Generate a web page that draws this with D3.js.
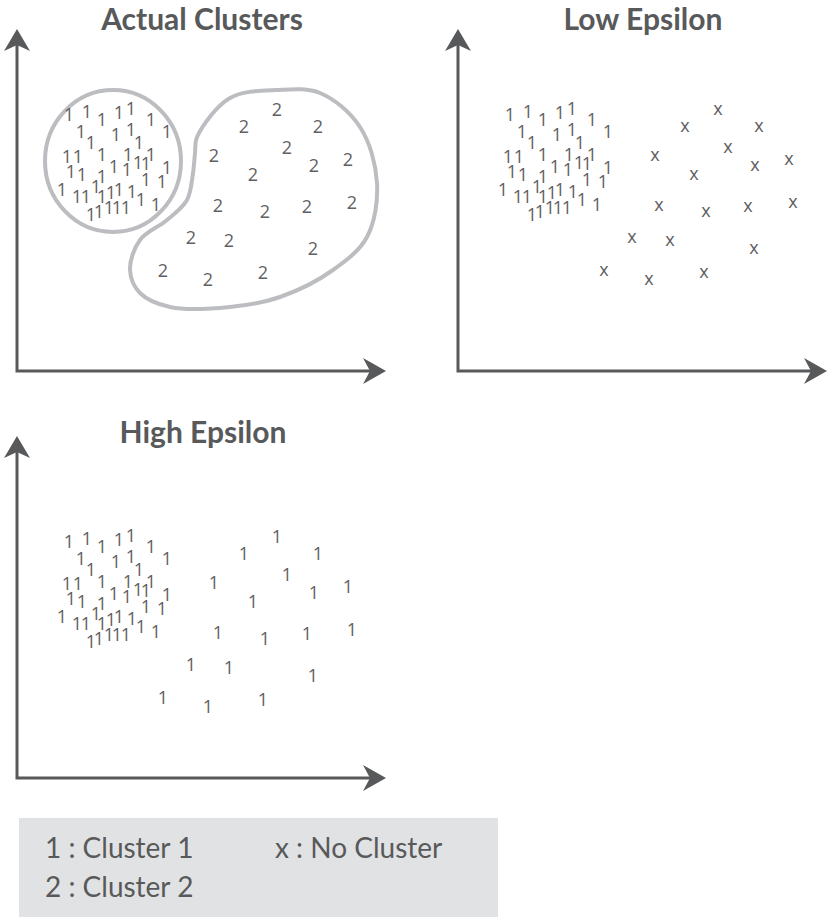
<!DOCTYPE html>
<html>
<head>
<meta charset="utf-8">
<script src="https://cdn.jsdelivr.net/npm/d3@7"></script>
<style>
  body { margin: 0; background: #fff; }
  svg { display: block; }
</style>
</head>
<body>
<script>
const width = 827;
const height = 917;

// panel titles and the glyph used for each group of points
const titles = ["Actual Clusters", "Low Epsilon", "High Epsilon"];
const denseLabels = ["1", "1", "1"];
const sparseLabels = ["2", "x", "1"];

// dense group (left), same in every panel
const denseX = [52, 70, 85, 102, 114, 134, 64, 74, 99, 114, 122, 150, 50, 61, 85, 111, 121, 129, 134,
  54, 65, 85, 97, 110, 129, 150, 45, 60, 69, 79, 85, 94, 102, 115, 124, 145, 139, 74, 82, 92, 100, 109];
const denseY = [256, 259, 251, 258, 262, 251, 239, 228, 236, 241, 228, 239, 214, 214, 216, 216, 208, 207, 216,
  199, 196, 194, 204, 201, 191, 203, 181, 174, 174, 184, 174, 178, 181, 179, 171, 189, 166, 156, 159, 163, 163, 163];

// sparse group (right)
const sparseX = [260, 227, 301, 270, 197, 297, 331, 236, 201, 248, 290, 335, 174, 212, 296, 146, 191, 246];
const sparseY = [261, 244, 244, 223, 215, 205, 211, 196, 165, 159, 164, 168, 133, 130, 122, 100, 91, 98];

// outlines drawn round the actual clusters
const ringCenter = [96, 210];
const ringRadius = [68, 71];
const blobX = [180, 213, 260, 303, 343, 360, 350, 316, 263, 213, 153, 123, 113, 123, 150, 170, 176, 178];
const blobY = [234, 273, 281, 278, 244, 188, 134, 101, 74, 64, 64, 78, 101, 131, 151, 171, 198, 218];

const legendLeft = ["1 : Cluster 1", "2 : Cluster 2"];
const legendRight = ["x : No Cluster"];

const ink = "#58595b";
const outline = "#bcbdc0";

const axisLen = {x: 369, y: 342};
const panels = [
  {axisX: 17, axisY: 371, pointY: 371, titleX: 202, titleY: 30},
  {axisX: 458, axisY: 371, pointY: 371, titleX: 643, titleY: 30},
  {axisX: 17, axisY: 778, pointY: 798, titleX: 203, titleY: 443}
];

const svg = d3.select("body").append("svg")
  .attr("width", width)
  .attr("height", height);

panels.forEach((p, i) => {
  const x = d3.scaleLinear().domain([0, axisLen.x]).range([p.axisX, p.axisX + axisLen.x]);
  const y = d3.scaleLinear().domain([0, axisLen.y]).range([p.pointY, p.pointY - axisLen.y]);
  const g = svg.append("g");

  // axes with arrow heads
  const tipX = p.axisX + axisLen.x;
  const tipY = p.axisY - axisLen.y;
  g.append("path")
    .attr("d", `M${p.axisX},${tipY + 14}V${p.axisY}H${tipX - 14}`)
    .attr("fill", "none")
    .attr("stroke", ink)
    .attr("stroke-width", 3);
  g.append("path")
    .attr("d", `M${p.axisX},${tipY}L${p.axisX + 13},${tipY + 22}L${p.axisX},${tipY + 16}L${p.axisX - 13},${tipY + 22}Z`)
    .attr("fill", ink);
  g.append("path")
    .attr("d", `M${tipX},${p.axisY}L${tipX - 23},${p.axisY - 13}L${tipX - 16},${p.axisY}L${tipX - 23},${p.axisY + 13}Z`)
    .attr("fill", ink);

  g.append("text")
    .attr("x", p.titleX)
    .attr("y", p.titleY)
    .attr("text-anchor", "middle")
    .attr("font-family", "Lato, sans-serif")
    .attr("font-weight", 700)
    .attr("font-size", 30)
    .attr("fill", ink)
    .text(titles[i]);

  if (i === 0) {
    g.append("ellipse")
      .attr("cx", x(ringCenter[0]))
      .attr("cy", y(ringCenter[1]))
      .attr("rx", x(ringCenter[0] + ringRadius[0]) - x(ringCenter[0]))
      .attr("ry", y(ringCenter[1]) - y(ringCenter[1] + ringRadius[1]))
      .attr("fill", "none")
      .attr("stroke", outline)
      .attr("stroke-width", 4);
    const blob = d3.line()
      .x(d => x(blobX[d]))
      .y(d => y(blobY[d]))
      .curve(d3.curveCatmullRomClosed.alpha(0.5));
    g.append("path")
      .attr("d", blob(d3.range(blobX.length)))
      .attr("fill", "none")
      .attr("stroke", outline)
      .attr("stroke-width", 4);
  }

  const glyphs = (xs, ys, label) => g.append("g")
    .selectAll("text")
    .data(d3.range(xs.length))
    .join("text")
    .attr("x", d => x(xs[d]))
    .attr("y", d => y(ys[d]))
    .attr("dy", label === "x" ? "0.27em" : "0.36em")
    .attr("text-anchor", "middle")
    .attr("font-family", "'Open Sans', sans-serif")
    .attr("font-size", 18)
    .attr("fill", "#5f6062")
    .text(label);

  glyphs(denseX, denseY, denseLabels[i]);
  glyphs(sparseX, sparseY, sparseLabels[i]);
});

// legend box
const legend = svg.append("g");
legend.append("rect")
  .attr("x", 19)
  .attr("y", 818)
  .attr("width", 479)
  .attr("height", 99)
  .attr("fill", "#e1e2e3");
legend.selectAll("text.left")
  .data(legendLeft)
  .join("text")
  .attr("class", "left")
  .attr("x", 45)
  .attr("y", (d, i) => 858 + i * 39)
  .text(d => d);
legend.selectAll("text.right")
  .data(legendRight)
  .join("text")
  .attr("class", "right")
  .attr("x", 275)
  .attr("y", 858)
  .text(d => d);
legend.selectAll("text")
  .attr("font-family", "Lato, sans-serif")
  .attr("font-size", 28)
  .attr("fill", ink);
</script>
</body>
</html>
